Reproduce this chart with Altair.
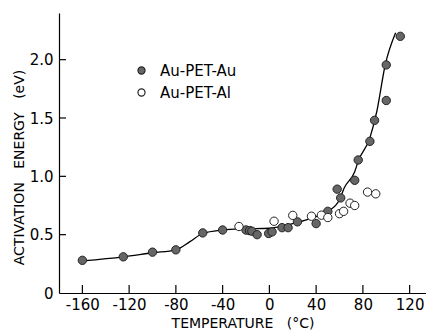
import altair as alt
import pandas as pd

series_names = ["Au-PET-Au", "Au-PET-Al"]

au_temp = [-160, -125, -100, -80, -57, -40, -20, -17, -15, -10.5, -0.6, 2.3, 10.8, 16, 24, 40, 50, 58, 61, 73, 76, 86, 90, 100, 100, 112]
au_energy = [0.28, 0.31, 0.35, 0.37, 0.515, 0.54, 0.54, 0.535, 0.53, 0.50, 0.51, 0.524, 0.56, 0.56, 0.61, 0.595, 0.70, 0.89, 0.815, 0.966, 1.14, 1.30, 1.48, 1.65, 1.955, 2.2]

al_temp = [-26, 4, 20, 36, 44.5, 50, 60, 63.5, 69, 73, 84, 91]
al_energy = [0.57, 0.615, 0.665, 0.658, 0.667, 0.647, 0.68, 0.70, 0.77, 0.75, 0.865, 0.85]

fit_temp = [-160, -125, -100, -80, -68, -57, -40, -25, 0, 20, 40, 50, 60, 64, 73, 76, 86, 92, 99, 108]
fit_energy = [0.275, 0.31, 0.345, 0.37, 0.44, 0.51, 0.54, 0.55, 0.555, 0.595, 0.655, 0.70, 0.80, 0.90, 1.04, 1.13, 1.33, 1.56, 1.95, 2.23]

x_ticks = [-160, -120, -80, -40, 0, 40, 80, 120]
y_labels = [0, 0.5, 1.0, 1.5, 2.0]
y_ticks = [0.5, 1.0, 1.5, 2.0]

pts = pd.DataFrame({
    "T": au_temp + al_temp,
    "E": au_energy + al_energy,
    "series": [series_names[0]] * len(au_temp) + [series_names[1]] * len(al_temp),
})
fit = pd.DataFrame({"T": fit_temp, "E": fit_energy})
xt_df = pd.DataFrame({"T": x_ticks})
yt_df = pd.DataFrame({"E": y_ticks})

font = "DejaVu Sans"
nb = "\u00a0"
xscale = alt.Scale(domain=[-180, 134], nice=False, zero=False)
yscale = alt.Scale(domain=[0, 2.4], nice=False, zero=False)

xax = alt.Axis(values=x_ticks, ticks=False, grid=False, domainColor="black", domainWidth=1.2,
               labelFont=font, labelFontSize=15, labelColor="black", labelPadding=4,
               labelFlush=False, labelExpr="datum.value < 0 ? '-' + abs(datum.value) : '' + datum.value",
               title="TEMPERATURE" + nb * 3 + "(°C)", titleFont=font, titleFontSize=14,
               titleFontWeight="normal", titleColor="black", titlePadding=4)
yax = alt.Axis(values=y_labels, ticks=False, grid=False, domainColor="black", domainWidth=1.2,
               labelFont=font, labelFontSize=15, labelColor="black", labelPadding=6,
               labelFlush=False,
               labelExpr="datum.value == 0 ? '0' : format(datum.value, '.1f')",
               title="ACTIVATION" + nb * 3 + "ENERGY" + nb * 3 + "(eV)", titleFont=font, titleFontSize=14,
               titleFontWeight="normal", titleColor="black", titlePadding=3, titleY=154)

line = alt.Chart(fit).mark_line(interpolate="monotone", color="black", strokeWidth=1.3).encode(
    x=alt.X("T:Q", scale=xscale, axis=xax),
    y=alt.Y("E:Q", scale=yscale, axis=yax),
)

xt = alt.Chart(xt_df).mark_rule(color="black", strokeWidth=1.2).encode(
    x=alt.X("T:Q", scale=xscale, axis=xax),
    y=alt.value(280), y2=alt.value(272),
)
yt = alt.Chart(yt_df).mark_rule(color="black", strokeWidth=1.2).encode(
    y=alt.Y("E:Q", scale=yscale, axis=yax),
    x=alt.value(0), x2=alt.value(7),
)

points = alt.Chart(pts).mark_circle(size=70, opacity=1, stroke="#222222", strokeWidth=1).encode(
    x=alt.X("T:Q", scale=xscale, axis=xax),
    y=alt.Y("E:Q", scale=yscale, axis=yax),
    fill=alt.Fill("series:N", sort=series_names,
                  scale=alt.Scale(domain=series_names, range=["#666666", "white"]),
                  legend=alt.Legend(title=None, orient="none", legendX=75, legendY=50,
                                    symbolType="circle", symbolSize=50,
                                    symbolStrokeColor="#222222", symbolStrokeWidth=1.2,
                                    labelFont=font, labelFontSize=15, labelColor="black",
                                    labelOffset=11, rowPadding=6)),
)

chart = alt.layer(line, xt, yt, points).properties(
    width=367, height=280,
    padding={"left": 59, "top": 13, "right": 0, "bottom": 41},
    autosize=alt.AutoSizeParams(type="none"),
).configure_view(stroke=None)

chart.save("out.html", embed_options={"renderer": "svg", "actions": False})
